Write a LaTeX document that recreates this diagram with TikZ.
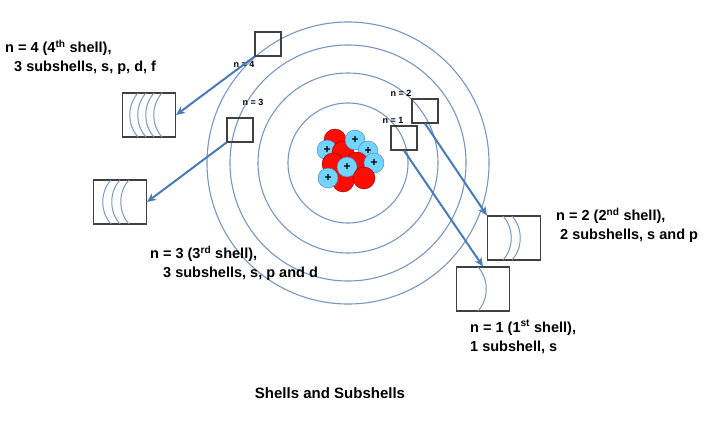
\documentclass[tikz,border=0pt]{standalone}
\usepackage{fontspec}
\setmainfont{Liberation Sans}
\usetikzlibrary{arrows.meta,positioning}
\definecolor{steel}{RGB}{70,125,185}
\definecolor{ring}{RGB}{120,150,195}
\tikzset{
  shell/.style={draw=ring, line width=1.1pt},
  smallbox/.style={draw=black!75, line width=1.1pt, minimum width=26pt, minimum height=24pt, inner sep=0pt},
  subbox/.style={draw=black!75, line width=1.1pt, minimum width=53pt, minimum height=44pt, inner sep=0pt},
  subarc/.style={draw=ring, line width=1pt},
  link/.style={draw=steel, line width=2pt, -{Stealth[length=9pt,width=8pt]}},
  proton/.style={circle, fill=blue!30!cyan!55, draw=steel, inner sep=0pt, minimum size=20pt, font=\bfseries\large},
  neutron/.style={circle, fill=red!90!orange, draw=red!55!black, inner sep=0pt, minimum size=22pt},
  lbl/.style={font=\bfseries\fontsize{14.5}{19}\selectfont, align=left, anchor=north west, inner sep=0pt},
  tiny/.style={font=\bfseries\fontsize{9}{10}\selectfont, inner sep=0pt}
}
\begin{document}
\begin{tikzpicture}[x=1pt,y=-1pt]
  \useasboundingbox (0,0) rectangle (720,439);
  % shells
  \foreach \r in {60,90,118,141}
    \draw[shell] (348,163) circle[radius=\r];
  % nucleus
  \node[neutron] (nu1) at (335,140) {};
  \node[proton] (pr1) at (327,150) {+};
  \node[neutron] (nu2) at (343,152) {};
  \node[proton] (pr2) at (355,140) {+};
  \node[proton] (pr3) at (368,151) {+};
  \node[neutron] (nu3) at (333,164) {};
  \node[neutron] (nu4) at (357,163) {};
  \node[proton] (pr4) at (374,163) {+};
  \node[neutron] (nu5) at (343,181) {};
  \node[proton] (pr5) at (328,178) {+};
  \node[proton] (pr6) at (347,167) {+};
  \node[neutron] (nu6) at (364,178) {};
  % small boxes on the shells
  \node[smallbox] (s4) at (268,44) {};
  \node[smallbox] (s3) at (240,130) {};
  \node[smallbox] (s2) at (425,111) {};
  \node[smallbox] (s1) at (404,138) {};
  \node[tiny] (t4) at (244,64) {n = 4};
  \node[tiny] (t3) at (253,102) {n = 3};
  \node[tiny] (t2) at (401,93) {n = 2};
  \node[tiny] (t1) at (393,120) {n = 1};
  % subshell boxes
  \node[subbox] (b4) at (149,115) {};
  \node[subbox] (b3) at (120,202) {};
  \node[subbox] (b2) at (514,238) {};
  \node[subbox] (b1) at (483,289) {};
  \foreach \p in {130,138,146,154}
    \draw[subarc] (\p+8,93) .. controls (\p-3,105) and (\p-3,125) .. (\p+8,137);
  \foreach \p in {103,112,121}
    \draw[subarc] (\p+8,180) .. controls (\p-3,192) and (\p-3,212) .. (\p+8,224);
  \foreach \p in {511,520}
    \draw[subarc] (\p-8,216) .. controls (\p+3,228) and (\p+3,248) .. (\p-8,260);
  \draw[subarc] (478,267) .. controls (489,279) and (489,299) .. (478,311);
  % arrows
  \draw[link] (s4.south west) -- (b4.east);
  \draw[link] (s3.south west) -- (b3.east);
  \draw[link] (s2.south) -- (b2.north west);
  \draw[link] (s1.south) -- (b1.north);
  % labels
  \node[lbl] (l4) at (5,40) {n = 4 (4\textsuperscript{th} shell),\\\hspace{9pt}3 subshells, s, p, d, f};
  \node[lbl] (l3) at (150,246) {n = 3 (3\textsuperscript{rd} shell),\\\hspace{13pt}3 subshells, s, p and d};
  \node[lbl] (l2) at (556,208) {n = 2 (2\textsuperscript{nd} shell),\\\hspace{4pt}2 subshells, s and p};
  \node[lbl] (l1) at (470,320) {n = 1 (1\textsuperscript{st} shell),\\1 subshell, s};
  \node[font=\bfseries\fontsize{15}{19}\selectfont] (title) at (330,393) {Shells and Subshells};
\end{tikzpicture}
\end{document}
